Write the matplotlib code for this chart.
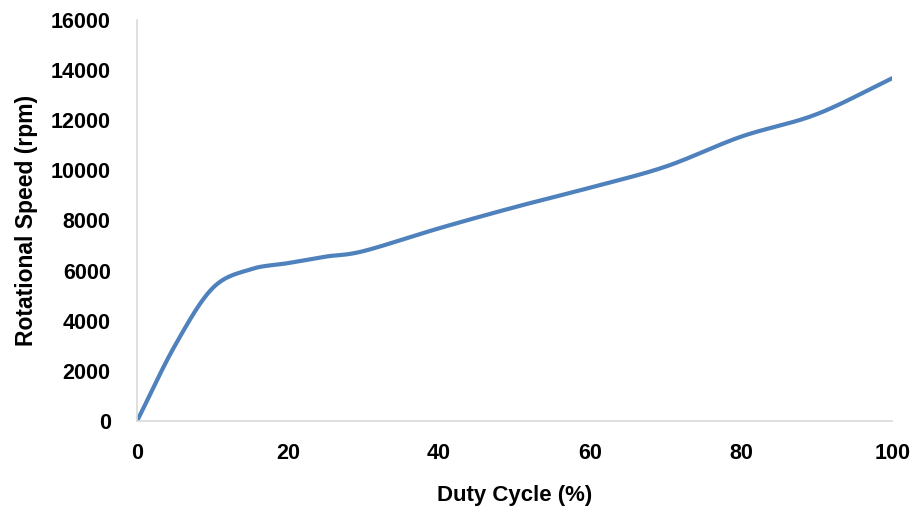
import numpy as np
import matplotlib.pyplot as plt

duty = [0, 5, 10, 15, 20, 25, 30, 40, 50, 60, 70, 80, 90, 100]
speed = [0, 3000, 5300, 6050, 6300, 6560, 6780, 7690, 8530, 9310, 10150, 11345, 12240, 13675]

x_ticks = [0, 20, 40, 60, 80, 100]
y_ticks = [0, 2000, 4000, 6000, 8000, 10000, 12000, 14000, 16000]


def smooth(xs, ys, n=30):
    # Excel-like smoothed line (Catmull-Rom through the points)
    xs = np.asarray(xs, float)
    ys = np.asarray(ys, float)
    px = np.concatenate([[2 * xs[0] - xs[1]], xs, [2 * xs[-1] - xs[-2]]])
    py = np.concatenate([[2 * ys[0] - ys[1]], ys, [2 * ys[-1] - ys[-2]]])
    t = np.linspace(0, 1, n)[:, None]
    outx, outy = [], []
    for i in range(1, len(px) - 2):
        for p, out in ((px, outx), (py, outy)):
            p0, p1, p2, p3 = p[i - 1], p[i], p[i + 1], p[i + 2]
            seg = 0.5 * ((2 * p1) + (-p0 + p2) * t + (2 * p0 - 5 * p1 + 4 * p2 - p3) * t ** 2
                         + (-p0 + 3 * p1 - 3 * p2 + p3) * t ** 3)
            out.append(seg.ravel())
    return np.concatenate(outx), np.concatenate(outy)


plt.rcParams['font.family'] = ['Liberation Sans', 'DejaVu Sans']

fig = plt.figure(figsize=(9.16, 5.11), dpi=100)
ax = fig.add_axes([0.1496, 0.176, 0.8244, 0.785])

sx, sy = smooth(duty, speed)
ax.plot(sx, sy, color='#4F81BD', lw=3, solid_capstyle='round')

ax.set_xlim(0, 100)
ax.set_ylim(0, 16000)
ax.set_xticks(x_ticks)
ax.set_yticks(y_ticks)
ax.tick_params(length=0, labelsize=15.5)
ax.tick_params(axis='x', pad=16)
ax.tick_params(axis='y', pad=19)
for lab in ax.get_xticklabels() + ax.get_yticklabels():
    lab.set_fontweight('bold')

for s in ['top', 'right']:
    ax.spines[s].set_visible(False)
for s in ['left', 'bottom']:
    ax.spines[s].set_color('#d9d9d9')
    ax.spines[s].set_linewidth(1.2)

ax.set_xlabel('Duty Cycle (%)', fontsize=16, fontweight='bold', labelpad=15)
ax.set_ylabel('Rotational Speed (rpm)', fontsize=16.5, fontweight='bold', labelpad=9)

plt.savefig('out.png', dpi=100)
